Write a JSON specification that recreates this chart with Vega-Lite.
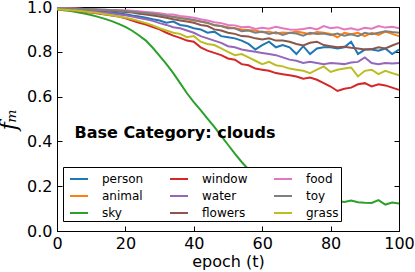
{
  "$schema": "https://vega.github.io/schema/vega-lite/v6.json",
  "width": 342,
  "height": 224,
  "autosize": {"type": "none"},
  "padding": {"left": 57, "top": 7, "right": 16, "bottom": 41},
  "background": "white",
  "config": {
    "font": "DejaVu Sans",
    "view": {"stroke": "black", "strokeWidth": 1},
    "axis": {
      "grid": false,
      "domainColor": "black",
      "domainWidth": 1,
      "tickColor": "black",
      "tickWidth": 1,
      "tickSize": -5,
      "labelColor": "black",
      "titleColor": "black",
      "labelFont": "DejaVu Sans",
      "titleFont": "DejaVu Sans",
      "labelFontSize": 16,
      "titleFontSize": 16,
      "titleFontWeight": "normal",
      "labelFlush": false,
      "labelOverlap": false
    }
  },
  "layer": [
    {
      "data": {
        "values": [
          {"epoch": 0, "person": 0.995, "animal": 0.995, "sky": 0.99, "window": 0.99, "water": 0.995, "flowers": 0.995, "food": 0.995, "toy": 0.995, "grass": 0.99},
          {"epoch": 2, "person": 0.993, "animal": 0.994, "sky": 0.986, "window": 0.988, "water": 0.993, "flowers": 0.994, "food": 0.994, "toy": 0.994, "grass": 0.988},
          {"epoch": 4, "person": 0.99, "animal": 0.993, "sky": 0.982, "window": 0.985, "water": 0.99, "flowers": 0.993, "food": 0.993, "toy": 0.993, "grass": 0.985},
          {"epoch": 6, "person": 0.988, "animal": 0.992, "sky": 0.977, "window": 0.982, "water": 0.987, "flowers": 0.992, "food": 0.992, "toy": 0.992, "grass": 0.983},
          {"epoch": 8, "person": 0.986, "animal": 0.991, "sky": 0.971, "window": 0.979, "water": 0.985, "flowers": 0.99, "food": 0.991, "toy": 0.991, "grass": 0.98},
          {"epoch": 10, "person": 0.984, "animal": 0.99, "sky": 0.964, "window": 0.975, "water": 0.982, "flowers": 0.989, "food": 0.99, "toy": 0.99, "grass": 0.977},
          {"epoch": 12, "person": 0.981, "animal": 0.988, "sky": 0.956, "window": 0.971, "water": 0.978, "flowers": 0.987, "food": 0.989, "toy": 0.989, "grass": 0.973},
          {"epoch": 14, "person": 0.978, "animal": 0.987, "sky": 0.947, "window": 0.967, "water": 0.975, "flowers": 0.985, "food": 0.988, "toy": 0.988, "grass": 0.968},
          {"epoch": 16, "person": 0.975, "animal": 0.985, "sky": 0.937, "window": 0.962, "water": 0.971, "flowers": 0.983, "food": 0.987, "toy": 0.986, "grass": 0.963},
          {"epoch": 18, "person": 0.972, "animal": 0.983, "sky": 0.925, "window": 0.957, "water": 0.967, "flowers": 0.98, "food": 0.986, "toy": 0.984, "grass": 0.958},
          {"epoch": 20, "person": 0.968, "animal": 0.981, "sky": 0.911, "window": 0.95, "water": 0.963, "flowers": 0.978, "food": 0.985, "toy": 0.982, "grass": 0.952},
          {"epoch": 22, "person": 0.962, "animal": 0.978, "sky": 0.894, "window": 0.94, "water": 0.957, "flowers": 0.975, "food": 0.983, "toy": 0.979, "grass": 0.945},
          {"epoch": 24, "person": 0.958, "animal": 0.975, "sky": 0.873, "window": 0.93, "water": 0.951, "flowers": 0.97, "food": 0.981, "toy": 0.976, "grass": 0.937},
          {"epoch": 26, "person": 0.952, "animal": 0.972, "sky": 0.85, "window": 0.922, "water": 0.945, "flowers": 0.967, "food": 0.978, "toy": 0.973, "grass": 0.928},
          {"epoch": 28, "person": 0.945, "animal": 0.968, "sky": 0.818, "window": 0.91, "water": 0.938, "flowers": 0.962, "food": 0.975, "toy": 0.97, "grass": 0.918},
          {"epoch": 30, "person": 0.94, "animal": 0.965, "sky": 0.782, "window": 0.9, "water": 0.928, "flowers": 0.958, "food": 0.972, "toy": 0.966, "grass": 0.905},
          {"epoch": 32, "person": 0.93, "animal": 0.96, "sky": 0.745, "window": 0.885, "water": 0.92, "flowers": 0.952, "food": 0.968, "toy": 0.96, "grass": 0.895},
          {"epoch": 34, "person": 0.935, "animal": 0.955, "sky": 0.705, "window": 0.872, "water": 0.91, "flowers": 0.945, "food": 0.966, "toy": 0.956, "grass": 0.885},
          {"epoch": 36, "person": 0.92, "animal": 0.952, "sky": 0.66, "window": 0.862, "water": 0.905, "flowers": 0.94, "food": 0.96, "toy": 0.95, "grass": 0.88},
          {"epoch": 38, "person": 0.915, "animal": 0.945, "sky": 0.615, "window": 0.85, "water": 0.895, "flowers": 0.935, "food": 0.957, "toy": 0.948, "grass": 0.865},
          {"epoch": 40, "person": 0.905, "animal": 0.94, "sky": 0.575, "window": 0.845, "water": 0.885, "flowers": 0.93, "food": 0.952, "toy": 0.942, "grass": 0.87},
          {"epoch": 42, "person": 0.9, "animal": 0.935, "sky": 0.54, "window": 0.82, "water": 0.87, "flowers": 0.92, "food": 0.945, "toy": 0.935, "grass": 0.845},
          {"epoch": 44, "person": 0.885, "animal": 0.928, "sky": 0.502, "window": 0.805, "water": 0.86, "flowers": 0.915, "food": 0.94, "toy": 0.93, "grass": 0.835},
          {"epoch": 46, "person": 0.89, "animal": 0.92, "sky": 0.465, "window": 0.795, "water": 0.85, "flowers": 0.9, "food": 0.932, "toy": 0.918, "grass": 0.83},
          {"epoch": 48, "person": 0.87, "animal": 0.915, "sky": 0.425, "window": 0.785, "water": 0.84, "flowers": 0.895, "food": 0.928, "toy": 0.915, "grass": 0.815},
          {"epoch": 50, "person": 0.865, "animal": 0.91, "sky": 0.385, "window": 0.77, "water": 0.825, "flowers": 0.885, "food": 0.92, "toy": 0.905, "grass": 0.8},
          {"epoch": 52, "person": 0.86, "animal": 0.905, "sky": 0.345, "window": 0.765, "water": 0.82, "flowers": 0.88, "food": 0.918, "toy": 0.905, "grass": 0.785},
          {"epoch": 54, "person": 0.85, "animal": 0.9, "sky": 0.308, "window": 0.745, "water": 0.81, "flowers": 0.87, "food": 0.91, "toy": 0.892, "grass": 0.79},
          {"epoch": 56, "person": 0.835, "animal": 0.897, "sky": 0.275, "window": 0.74, "water": 0.805, "flowers": 0.868, "food": 0.912, "toy": 0.895, "grass": 0.775},
          {"epoch": 58, "person": 0.81, "animal": 0.895, "sky": 0.25, "window": 0.725, "water": 0.8, "flowers": 0.86, "food": 0.902, "toy": 0.885, "grass": 0.76},
          {"epoch": 60, "person": 0.83, "animal": 0.887, "sky": 0.228, "window": 0.72, "water": 0.795, "flowers": 0.855, "food": 0.907, "toy": 0.89, "grass": 0.745},
          {"epoch": 62, "person": 0.845, "animal": 0.89, "sky": 0.21, "window": 0.715, "water": 0.79, "flowers": 0.86, "food": 0.903, "toy": 0.88, "grass": 0.755},
          {"epoch": 64, "person": 0.82, "animal": 0.882, "sky": 0.195, "window": 0.705, "water": 0.785, "flowers": 0.85, "food": 0.912, "toy": 0.887, "grass": 0.74},
          {"epoch": 66, "person": 0.83, "animal": 0.886, "sky": 0.182, "window": 0.7, "water": 0.775, "flowers": 0.85, "food": 0.905, "toy": 0.875, "grass": 0.735},
          {"epoch": 68, "person": 0.82, "animal": 0.884, "sky": 0.172, "window": 0.695, "water": 0.765, "flowers": 0.845, "food": 0.9, "toy": 0.885, "grass": 0.725},
          {"epoch": 70, "person": 0.79, "animal": 0.89, "sky": 0.163, "window": 0.69, "water": 0.76, "flowers": 0.835, "food": 0.898, "toy": 0.882, "grass": 0.72},
          {"epoch": 72, "person": 0.825, "animal": 0.885, "sky": 0.156, "window": 0.68, "water": 0.75, "flowers": 0.828, "food": 0.902, "toy": 0.872, "grass": 0.715},
          {"epoch": 74, "person": 0.79, "animal": 0.878, "sky": 0.15, "window": 0.685, "water": 0.755, "flowers": 0.84, "food": 0.907, "toy": 0.885, "grass": 0.705},
          {"epoch": 76, "person": 0.815, "animal": 0.888, "sky": 0.145, "window": 0.675, "water": 0.75, "flowers": 0.845, "food": 0.9, "toy": 0.88, "grass": 0.72},
          {"epoch": 78, "person": 0.82, "animal": 0.885, "sky": 0.14, "window": 0.66, "water": 0.745, "flowers": 0.83, "food": 0.915, "toy": 0.882, "grass": 0.735},
          {"epoch": 80, "person": 0.82, "animal": 0.88, "sky": 0.137, "window": 0.645, "water": 0.75, "flowers": 0.825, "food": 0.905, "toy": 0.875, "grass": 0.71},
          {"epoch": 82, "person": 0.815, "animal": 0.865, "sky": 0.134, "window": 0.625, "water": 0.748, "flowers": 0.82, "food": 0.91, "toy": 0.882, "grass": 0.72},
          {"epoch": 84, "person": 0.82, "animal": 0.885, "sky": 0.13, "window": 0.635, "water": 0.745, "flowers": 0.822, "food": 0.9, "toy": 0.872, "grass": 0.725},
          {"epoch": 86, "person": 0.845, "animal": 0.878, "sky": 0.136, "window": 0.64, "water": 0.752, "flowers": 0.818, "food": 0.905, "toy": 0.878, "grass": 0.73},
          {"epoch": 88, "person": 0.79, "animal": 0.885, "sky": 0.128, "window": 0.655, "water": 0.755, "flowers": 0.815, "food": 0.897, "toy": 0.87, "grass": 0.69},
          {"epoch": 90, "person": 0.81, "animal": 0.87, "sky": 0.126, "window": 0.66, "water": 0.775, "flowers": 0.81, "food": 0.907, "toy": 0.885, "grass": 0.715},
          {"epoch": 92, "person": 0.81, "animal": 0.885, "sky": 0.125, "window": 0.645, "water": 0.75, "flowers": 0.812, "food": 0.903, "toy": 0.878, "grass": 0.72},
          {"epoch": 94, "person": 0.805, "animal": 0.875, "sky": 0.138, "window": 0.655, "water": 0.745, "flowers": 0.82, "food": 0.915, "toy": 0.885, "grass": 0.7},
          {"epoch": 96, "person": 0.815, "animal": 0.89, "sky": 0.118, "window": 0.65, "water": 0.75, "flowers": 0.815, "food": 0.908, "toy": 0.892, "grass": 0.715},
          {"epoch": 98, "person": 0.79, "animal": 0.88, "sky": 0.127, "window": 0.64, "water": 0.748, "flowers": 0.828, "food": 0.912, "toy": 0.888, "grass": 0.705},
          {"epoch": 100, "person": 0.81, "animal": 0.87, "sky": 0.123, "window": 0.63, "water": 0.75, "flowers": 0.84, "food": 0.905, "toy": 0.885, "grass": 0.695}
        ]
      },
      "transform": [
        {"fold": ["person", "animal", "sky", "window", "water", "flowers", "food", "toy", "grass"], "as": ["category", "fm"]}
      ],
      "mark": {"type": "line", "strokeWidth": 2},
      "encoding": {
        "x": {
          "field": "epoch",
          "type": "quantitative",
          "scale": {"domain": [0, 100], "nice": false},
          "axis": {"values": [0, 20, 40, 60, 80, 100], "title": "epoch (t)", "labelPadding": 9, "titlePadding": 2}
        },
        "y": {
          "field": "fm",
          "type": "quantitative",
          "scale": {"domain": [0, 1], "nice": false},
          "axis": {
            "values": [0, 0.2, 0.4, 0.6, 0.8, 1],
            "format": ".1f",
            "title": "fₘ",
            "titleFont": "DejaVu Serif",
            "titleFontStyle": "italic",
            "titleFontSize": 22,
            "titlePadding": 6,
            "labelPadding": 10
          }
        },
        "color": {
          "field": "category",
          "type": "nominal",
          "scale": {
            "domain": ["person", "animal", "sky", "window", "water", "flowers", "food", "toy", "grass"],
            "range": ["#1f77b4", "#ff7f0e", "#2ca02c", "#d62728", "#9467bd", "#8c564b", "#e377c2", "#7f7f7f", "#bcbd22"]
          },
          "legend": {
            "title": null,
            "orient": "none",
            "legendX": 6,
            "legendY": 160,
            "columns": 3,
            "symbolType": "stroke",
            "symbolSize": 324,
            "symbolStrokeWidth": 2,
            "symbolOffset": 4,
            "labelFont": "DejaVu Sans",
            "labelFontSize": 12,
            "labelColor": "black",
            "labelOffset": 13,
            "labelLimit": 0,
            "columnPadding": 21,
            "rowPadding": 1,
            "padding": 2,
            "strokeColor": "black",
            "fillColor": "white"
          }
        }
      }
    },
    {
      "data": {"values": [{}]},
      "mark": {"type": "text", "align": "left", "baseline": "alphabetic", "font": "DejaVu Sans", "fontSize": 16, "fontWeight": "bold", "color": "black"},
      "encoding": {
        "x": {"datum": 5.1, "type": "quantitative", "axis": {"orient": "top", "values": [0, 20, 40, 60, 80, 100], "labels": false, "title": null, "domain": false}},
        "y": {"datum": 0.414, "type": "quantitative", "axis": {"orient": "right", "values": [0, 0.2, 0.4, 0.6, 0.8, 1], "labels": false, "title": null, "domain": false}},
        "text": {"value": "Base Category: clouds"}
      }
    }
  ],
  "resolve": {"axis": {"x": "independent", "y": "independent"}}
}
